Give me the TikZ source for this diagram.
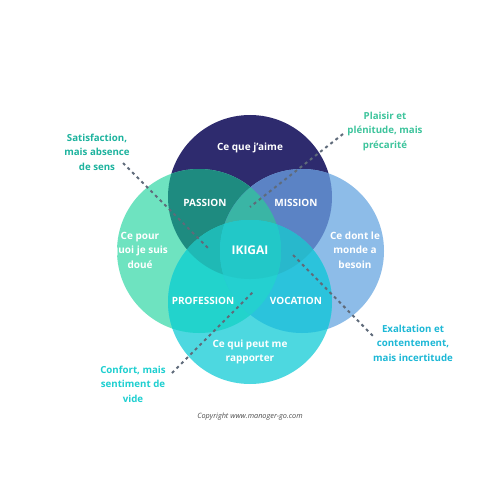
\documentclass[tikz,border=0pt]{standalone}
\usepackage{fontspec}
\setmainfont{Open Sans}
\definecolor{cT}{HTML}{2E2B6E}
\definecolor{cL}{HTML}{6EE3C0}
\definecolor{cR}{HTML}{8DBCE8}
\definecolor{cB}{HTML}{4DD8E0}
\definecolor{cTL}{HTML}{1E8B80}
\definecolor{cTR}{HTML}{5B83C5}
\definecolor{cLB}{HTML}{22D3CC}
\definecolor{cRB}{HTML}{2BC3DC}
\definecolor{cTLR}{HTML}{3AB5A5}
\definecolor{cTLB}{HTML}{1FB9B5}
\definecolor{cTRB}{HTML}{28B8CC}
\definecolor{cLRB}{HTML}{24D0D0}
\definecolor{cAll}{HTML}{22C8C8}
\definecolor{dashcol}{HTML}{5F6B7A}
\definecolor{lab1}{HTML}{1DB39E}
\definecolor{lab2}{HTML}{3DC49C}
\definecolor{lab3}{HTML}{1DB8D6}
\definecolor{lab4}{HTML}{1DCFD0}
\def\pT{(250,197) circle [radius=82pt]}
\def\pL{(199,251) circle [radius=82pt]}
\def\pR{(302,251) circle [radius=82pt]}
\def\pB{(250,302) circle [radius=82pt]}
\tikzset{
  inlabel/.style={text=white, font=\bfseries\fontsize{10}{14.5}\selectfont, align=center, inner sep=0pt},
  sidelabel/.style={font=\bfseries\fontsize{9.7}{14.5}\selectfont, align=center, inner sep=0pt},
  leader/.style={dashcol, line width=2pt, dash pattern=on 3pt off 3.5pt}
}
\begin{document}
\begin{tikzpicture}[x=1pt,y=-1pt]
\useasboundingbox (0,0) rectangle (500,500);
\fill[white] (0,0) rectangle (500,500);
% single circles
\fill[cT] \pT;
\fill[cL] \pL;
\fill[cR] \pR;
\fill[cB] \pB;
% pairs
\begin{scope}\clip \pT; \fill[cTL] \pL; \fill[cTR] \pR; \end{scope}
\begin{scope}\clip \pB; \fill[cLB] \pL; \fill[cRB] \pR; \end{scope}
% triples
\begin{scope}\clip \pT; \clip \pL; \fill[cTLR] \pR; \end{scope}
\begin{scope}\clip \pT; \clip \pL; \fill[cTLB] \pB; \end{scope}
\begin{scope}\clip \pT; \clip \pR; \fill[cTRB] \pB; \end{scope}
\begin{scope}\clip \pL; \clip \pR; \fill[cLRB] \pB; \end{scope}
% all four
\begin{scope}\clip \pT; \clip \pL; \clip \pR; \fill[cAll] \pB; \end{scope}

% leader lines
\coordinate (s1) at (123,163); \coordinate (s2) at (210,250);
\coordinate (p1) at (343,134); \coordinate (p2) at (250,207);
\coordinate (e1) at (293,255); \coordinate (e2) at (373,336);
\coordinate (c1) at (172,373); \coordinate (c2) at (253,292);
\draw[leader] (s1) -- (s2);
\draw[leader] (p1) -- (p2);
\draw[leader] (e1) -- (e2);
\draw[leader] (c1) -- (c2);

% circle labels
\node[inlabel] (aime) at (250,148) {Ce que j’aime};
\node[inlabel] (passion) at (205,203) {PASSION};
\node[inlabel] (mission) at (296,203) {MISSION};
\node[inlabel] (doue) at (140,250) {Ce pour\\quoi je suis\\doué};
\node[inlabel, font=\bfseries\fontsize{12}{14}\selectfont] (ikigai) at (250,250) {IKIGAI};
\node[inlabel] (monde) at (355,250) {Ce dont le\\monde a\\besoin};
\node[inlabel] (profession) at (203,301) {PROFESSION};
\node[inlabel] (vocation) at (296,301) {VOCATION};
\node[inlabel] (rapporter) at (250,352) {Ce qui peut me\\rapporter};

% side labels
\node[sidelabel, text=lab1] (satis) at (97,152) {Satisfaction,\\mais absence\\de sens};
\node[sidelabel, text=lab2] (plaisir) at (385,131) {Plaisir et\\plénitude, mais\\précarité};
\node[sidelabel, text=lab3] (exalt) at (413,343) {Exaltation et\\contentement,\\mais incertitude};
\node[sidelabel, text=lab4] (confort) at (133,384) {Confort, mais\\sentiment de\\vide};

\node[text=black!70, font=\itshape\fontsize{7.3}{9}\selectfont, inner sep=0pt] (copy) at (250,417) {Copyright www.manoger-go.com};
\end{tikzpicture}
\end{document}
